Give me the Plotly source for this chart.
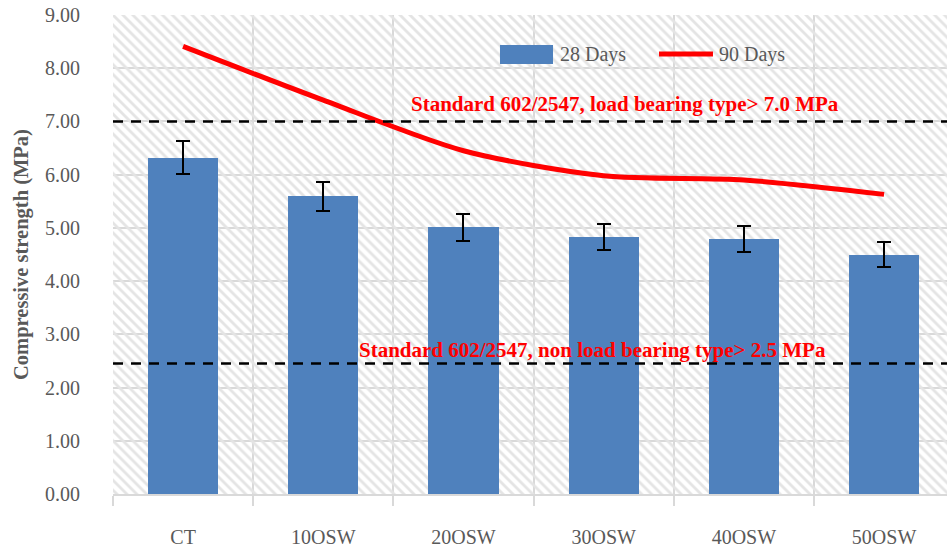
import plotly.graph_objects as go

categories = ["CT", "10OSW", "20OSW", "30OSW", "40OSW", "50OSW"]
days28 = [6.32, 5.59, 5.01, 4.83, 4.79, 4.50]
days28_err = [0.31, 0.28, 0.25, 0.25, 0.24, 0.23]
days90 = [8.41, 7.40, 6.45, 5.98, 5.90, 5.63]
y_ticks = [0, 1, 2, 3, 4, 5, 6, 7, 8, 9]
y_ticktext = ["0.00", "1.00", "2.00", "3.00", "4.00", "5.00", "6.00", "7.00", "8.00", "9.00"]
load_bearing_limit = 7.0
non_load_bearing_limit = 2.45
y_max = 9

SERIF = "Liberation Serif, Times New Roman, serif"
GRAY = "#595959"
GRID = "#d9d9d9"

fig = go.Figure()

# hatched plot-area background
fig.add_trace(go.Bar(
    x=categories, y=[y_max] * len(categories), width=1,
    marker=dict(color="rgba(0,0,0,0)", line=dict(width=0),
                pattern=dict(shape="\\", fgcolor="#e4e4e4", bgcolor="rgba(0,0,0,0)",
                             size=7, solidity=0.4, fillmode="replace")),
    showlegend=False, hoverinfo="skip",
))

fig.add_trace(go.Bar(
    x=categories, y=days28, width=0.5, name="28 Days",
    marker=dict(color="#4f81bd", line=dict(width=0)),
    error_y=dict(type="data", array=days28_err, color="black", thickness=2, width=7),
    showlegend=False,
))

fig.add_trace(go.Scatter(
    x=categories, y=days90, mode="lines", name="90 Days",
    line=dict(color="#ff0000", width=5, shape="spline", smoothing=0.8),
    showlegend=False,
))

for yv in (load_bearing_limit, non_load_bearing_limit):
    fig.add_shape(type="line", xref="x domain", x0=0, x1=1, yref="y", y0=yv, y1=yv,
                  line=dict(color="black", width=2.5, dash="10px,8px"), layer="above")

fig.add_annotation(text="<b>Standard 602/2547, load bearing type> 7.0 MPa</b>",
                   xref="x domain", yref="y", x=0.614, y=7.33, showarrow=False,
                   xanchor="center", yanchor="middle",
                   font=dict(family=SERIF, size=21, color="#ff0000"))
fig.add_annotation(text="<b>Standard 602/2547, non load bearing type> 2.5 MPa</b>",
                   xref="x domain", yref="y", x=0.5755, y=2.71, showarrow=False,
                   xanchor="center", yanchor="middle",
                   font=dict(family=SERIF, size=21, color="#ff0000"))

# custom legend
fig.add_shape(type="rect", xref="x domain", yref="y domain", x0=0.464, x1=0.5276,
              y0=0.8977, y1=0.9374, fillcolor="#4f81bd", line=dict(width=0))
fig.add_annotation(text="28 Days", xref="x domain", yref="y domain", x=0.5336, y=0.9175,
                   xanchor="left", yanchor="middle", showarrow=False,
                   font=dict(family=SERIF, size=20, color=GRAY))
fig.add_shape(type="line", xref="x domain", yref="y domain", x0=0.6547, x1=0.7194,
              y0=0.9186, y1=0.9186, line=dict(color="#ff0000", width=5))
fig.add_annotation(text="90 Days", xref="x domain", yref="y domain", x=0.7242, y=0.9175,
                   xanchor="left", yanchor="middle", showarrow=False,
                   font=dict(family=SERIF, size=20, color=GRAY))

fig.update_layout(
    width=947, height=550,
    margin=dict(l=113, r=0, t=15, b=56),
    paper_bgcolor="white", plot_bgcolor="white",
    barmode="overlay", bargap=0,
    showlegend=False,
    font=dict(family=SERIF, color=GRAY),
)
fig.update_xaxes(
    type="category", range=[-0.5, 5.449], tickson="boundaries",
    showgrid=True, gridcolor=GRID, gridwidth=1.5,
    ticks="outside", ticklen=10, tickcolor=GRID, tickwidth=1.5,
    showline=True, linecolor=GRID, linewidth=1.5,
    tickfont=dict(family=SERIF, size=20, color=GRAY), ticklabelstandoff=24,
    automargin=False, fixedrange=True,
)
fig.update_yaxes(
    range=[0, y_max], tickvals=y_ticks, ticktext=y_ticktext,
    showgrid=True, gridcolor=GRID, gridwidth=1.5, zeroline=False,
    ticks="", tickfont=dict(family=SERIF, size=20, color=GRAY), ticklabelstandoff=32,
    ticklabeloverflow="allow",
    title=dict(text="<b>Compressive strength (MPa)</b>", standoff=10,
               font=dict(family=SERIF, size=20.5, color=GRAY)),
    automargin=False, fixedrange=True,
)

# remove the browser's default 8px body margin so the figure fills the window exactly
fig.write_html("out.html", config={"displayModeBar": False},
               post_script="document.body.style.margin='0';")
